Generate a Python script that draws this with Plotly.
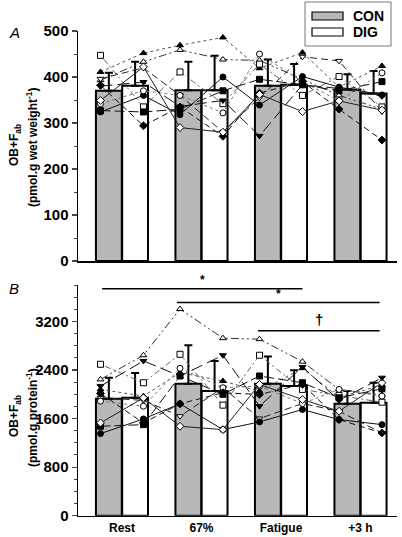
import plotly.graph_objects as go

categories = ['Rest', '67%', 'Fatigue', '+3 h']

# Panel A: pmol.g wet weight-1
a_con_mean = [370, 371, 381, 373]
a_dig_mean = [381, 371, 383, 364]
a_con_sd = [39, 62, 57, 33]
a_dig_sd = [52, 75, 45, 49]

# Panel B: pmol.g protein-1
b_con_mean = [1925, 2174, 2174, 1843]
b_dig_mean = [1942, 2052, 2135, 1860]
b_con_sd = [348, 634, 447, 209]
b_dig_sd = [408, 497, 259, 330]

# individual subjects, order: Rest CON, Rest DIG, 67% CON, 67% DIG, Fatigue CON, Fatigue DIG, +3 h CON, +3 h DIG
a_subjects = {
    'S1': [411, 452, 469, 486, 419, 453, 378, 424],
    'S2': [393, 433, 459, 438, 436, 395, 360, 330],
    'S3': [396, 420, 360, 280, 355, 444, 435, 325],
    'S4': [447, 335, 411, 342, 428, 360, 401, 335],
    'S5': [327, 324, 330, 370, 395, 383, 370, 390],
    'S6': [324, 360, 318, 400, 339, 401, 378, 361],
    'S7': [342, 370, 360, 322, 450, 390, 348, 409],
    'S8': [382, 294, 335, 271, 365, 390, 330, 263],
    'S9': [349, 422, 290, 280, 362, 325, 348, 328],
    'S10': [380, 389, 336, 349, 272, 383, 375, 358],
}
b_subjects = {
    'S1': [2080, 1970, 2356, 2218, 2050, 2430, 1950, 2150],
    'S2': [2245, 2643, 3404, 2924, 2908, 2538, 2080, 1990],
    'S3': [1942, 1900, 1639, 2108, 1600, 1848, 1721, 1363],
    'S4': [2494, 2190, 2659, 1821, 2643, 2080, 1980, 1870],
    'S5': [1473, 1500, 2301, 2000, 2301, 2190, 1942, 2091],
    'S6': [1352, 1594, 1843, 1418, 1545, 1749, 1583, 1500],
    'S7': [1887, 1804, 2428, 2108, 2135, 1848, 2080, 1970],
    'S8': [2014, 1528, 1843, 2025, 1997, 2163, 1583, 1363],
    'S9': [1528, 1942, 1473, 1418, 2163, 1914, 1721, 2190],
    'S10': [2135, 2549, 2301, 2643, 1804, 2450, 1900, 2273],
}

styles = {
    'S1': ('triangle-up', True, 'dot', '#555555'),
    'S2': ('triangle-up', False, '8px,3px,2px,3px,2px,3px', '#333333'),
    'S3': ('triangle-down', False, '7px,4px', '#222222'),
    'S4': ('square', False, '2px,3px,6px,3px', '#666666'),
    'S5': ('square', True, '10px,4px', '#111111'),
    'S6': ('circle', True, 'solid', '#111111'),
    'S7': ('circle', False, 'dot', '#777777'),
    'S8': ('diamond', True, '6px,4px', '#111111'),
    'S9': ('diamond', False, 'solid', '#222222'),
    'S10': ('triangle-down', True, '12px,5px', '#111111'),
}

FONT = 'Liberation Sans, Arial, sans-serif'
GRAY = '#b8b8b8'
BW = 0.325
OFF = 0.165
MOFF = 0.27

fig = go.Figure()

def add_panel(con, dig, con_sd, dig_sd, subjects, xa, ya):
    xs = list(range(len(categories)))
    fig.add_trace(go.Bar(x=[i - OFF for i in xs], y=con, width=BW, marker=dict(color=GRAY, line=dict(color='black', width=2)),
                         error_y=dict(type='data', symmetric=False, array=con_sd, arrayminus=[0]*4, color='black', thickness=2, width=4),
                         xaxis=xa, yaxis=ya, showlegend=False, hoverinfo='skip'))
    fig.add_trace(go.Bar(x=[i + OFF for i in xs], y=dig, width=BW, marker=dict(color='white', line=dict(color='black', width=2)),
                         error_y=dict(type='data', symmetric=False, array=dig_sd, arrayminus=[0]*4, color='black', thickness=2, width=4),
                         xaxis=xa, yaxis=ya, showlegend=False, hoverinfo='skip'))
    px = []
    for i in xs:
        px += [i - MOFF, i + MOFF]
    for key, vals in subjects.items():
        sym, filled, dash, lc = styles[key]
        fig.add_trace(go.Scatter(x=px, y=vals, mode='lines+markers', xaxis=xa, yaxis=ya, showlegend=False,
                                 line=dict(color=lc, width=1, dash=dash),
                                 marker=dict(symbol=sym, size=6, color='black' if filled else 'white',
                                             line=dict(color='black', width=1)),
                                 hoverinfo='skip'))

add_panel(a_con_mean, a_dig_mean, a_con_sd, a_dig_sd, a_subjects, 'x', 'y')
add_panel(b_con_mean, b_dig_mean, b_con_sd, b_dig_sd, b_subjects, 'x2', 'y2')

xrange = [-0.553, 3.459]
xdom = [78 / 402, 397 / 402]
common_x = dict(range=xrange, domain=xdom, showline=True, linecolor='black', linewidth=1.5, automargin=False,
                showgrid=False, zeroline=False, ticks='', fixedrange=True)
tickf = dict(size=15, family=FONT, weight='bold')
fig.update_layout(
    width=402, height=537, margin=dict(l=0, r=0, t=0, b=0, pad=0, autoexpand=False),
    plot_bgcolor='white', paper_bgcolor='white', barmode='overlay',
    font=dict(family=FONT, color='black'),
    xaxis=dict(**common_x, anchor='y', showticklabels=False),
    xaxis2=dict(**common_x, anchor='y2', tickmode='array', tickvals=[0, 1, 2, 3], ticktext=categories,
                tickfont=dict(size=12, family=FONT, weight='bold')),
    yaxis=dict(domain=[1 - 261 / 537, 1 - 31 / 537], range=[0, 500], anchor='x', dtick=100, automargin=False,
               showline=True, linecolor='black', linewidth=1.5, ticks='outside', ticklen=5, tickwidth=1.2,
               showgrid=False, zeroline=False, tickfont=tickf, fixedrange=True,
               minor=dict(dtick=50, ticks='outside', ticklen=3, tickwidth=1)),
    yaxis2=dict(domain=[1 - 515.7 / 537, 1 - 285 / 537], range=[0, 3800], anchor='x2', tickvals=[0, 800, 1600, 2400, 3200],
                automargin=False, fixedrange=True,
                showline=True, linecolor='black', linewidth=1.5, ticks='outside', ticklen=5, tickwidth=1.2,
                showgrid=False, zeroline=False, tickfont=tickf,
                minor=dict(dtick=200, ticks='outside', ticklen=3, tickwidth=1)),
)

def pann(text, x, y, size=12, angle=0, xanchor='center'):
    return dict(text=text, x=x / 402, y=1 - y / 537, xref='paper', yref='paper', textangle=angle,
                xanchor=xanchor, yanchor='middle', showarrow=False, font=dict(size=size, family=FONT))

ann = []
# y-axis titles
ann.append(pann('<b>OB+F<sub>ab</sub></b>', 15, 145, angle=-90))
ann.append(pann('<b>(pmol.g wet weight<sup>-1</sup>)</b>', 32, 148, angle=-90))
ann.append(pann('<b>OB+F<sub>ab</sub></b>', 15, 416, angle=-90))
ann.append(pann('<b>(pmol.g protein<sup>-1</sup>)</b>', 32, 418, angle=-90))
# panel labels
ann.append(pann('<i>A</i>', 14, 33, size=15))
ann.append(pann('<i>B</i>', 14, 288, size=15))

shapes = []
# significance bars (panel B)
sig = [(-0.25, 2.27, 3740, '*'), (0.69, 3.24, 3510, '*'), (1.71, 3.24, 3046, '†')]
for x0, x1, yv, s in sig:
    shapes.append(dict(type='line', xref='x2', yref='y2', x0=x0, x1=x1, y0=yv, y1=yv, line=dict(color='black', width=1.5)))
    ann.append(dict(text='<b>' + s + '</b>', x=(x0 + x1) / 2, y=yv, xref='x2', yref='y2', xanchor='center', yanchor='bottom',
                    showarrow=False, yshift=0 if s == '*' else 1,
                    font=dict(size=12 if s == '*' else 15, family=FONT, color='black')))

# legend
shapes.append(dict(type='rect', xref='paper', yref='paper', x0=305 / 402, x1=391 / 402, y0=1 - 46 / 537, y1=1 - 2 / 537,
                   line=dict(color='#777777', width=1), fillcolor='white'))
shapes.append(dict(type='rect', xref='paper', yref='paper', x0=312 / 402, x1=343 / 402, y0=1 - 20 / 537, y1=1 - 12 / 537,
                   line=dict(color='black', width=1.2), fillcolor=GRAY))
shapes.append(dict(type='rect', xref='paper', yref='paper', x0=312 / 402, x1=343 / 402, y0=1 - 36 / 537, y1=1 - 28 / 537,
                   line=dict(color='black', width=1.2), fillcolor='white'))
ann.append(pann('<b>CON</b>', 351, 16, size=14, xanchor='left'))
ann.append(pann('<b>DIG</b>', 351, 32, size=14, xanchor='left'))

fig.update_layout(annotations=ann, shapes=shapes)
fig.write_html('out.html', config={'displayModeBar': False, 'staticPlot': True},
               post_script="document.body.style.margin='0';document.body.style.overflow='hidden';")
